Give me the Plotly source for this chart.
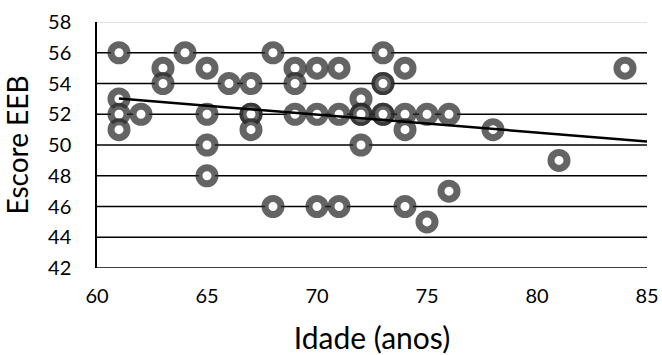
import numpy as np
import plotly.graph_objects as go

idade = [61, 61, 61, 61, 62, 63, 63, 64, 65, 65, 65, 65, 66, 67, 67, 67, 67,
         68, 68, 69, 69, 69, 70, 70, 70, 71, 71, 71, 72, 72, 72, 72,
         73, 73, 73, 73, 73, 74, 74, 74, 74, 75, 75, 76, 76, 78, 81, 84]
escore = [56, 53, 52, 51, 52, 55, 54, 56, 55, 52, 50, 48, 54, 54, 52, 52, 51,
          56, 46, 55, 54, 52, 55, 52, 46, 55, 52, 46, 53, 52, 52, 50,
          56, 54, 54, 52, 52, 55, 52, 51, 46, 52, 45, 52, 47, 51, 49, 55]

x_ticks = [60, 65, 70, 75, 80, 85]
y_ticks = [42, 44, 46, 48, 50, 52, 54, 56, 58]

slope, intercept = np.polyfit(idade, escore, 1)
tx = [min(idade), 85]
ty = [slope * v + intercept for v in tx]

fig = go.Figure()
fig.add_trace(go.Scatter(
    x=idade, y=escore, mode="markers",
    marker=dict(symbol="circle", size=16, color="white",
                line=dict(color="rgba(40,40,40,0.72)", width=7)),
    showlegend=False, hoverinfo="x+y"))
fig.add_trace(go.Scatter(
    x=tx, y=ty, mode="lines", line=dict(color="black", width=2.5),
    showlegend=False, hoverinfo="skip"))

shapes = []
for yv in y_ticks[1:]:
    shapes.append(dict(type="line", xref="x", yref="y", x0=60, x1=85, y0=yv, y1=yv,
                       line=dict(color="#d9d9d9" if yv == 58 else "black", width=1.5),
                       layer="below"))
shapes.append(dict(type="line", xref="x", yref="y", x0=60, x1=85, y0=42, y1=42,
                   line=dict(color="black", width=1.5), layer="below"))

font = "Lato, Open Sans, sans-serif"
fig.update_layout(
    width=662, height=355,
    margin=dict(l=97, r=15, t=22, b=87),
    paper_bgcolor="white", plot_bgcolor="white",
    shapes=shapes,
    font=dict(family=font, color="black"),
    xaxis=dict(range=[60, 85], tickvals=x_ticks, showgrid=False, zeroline=False,
               showline=False, ticks="", tickfont=dict(size=20), automargin=False,
               ticklabelstandoff=14,
               title=dict(text="Idade (anos)", font=dict(size=30), standoff=26)),
    yaxis=dict(range=[42, 58], tickvals=y_ticks, showgrid=False, zeroline=False,
               showline=True, linecolor="black", linewidth=1.5, ticks="",
               tickfont=dict(size=20), ticklabelstandoff=20, automargin=False,
               title=dict(text="Escore EEB", font=dict(size=28), standoff=15)),
)
fig.write_html(
    "out.html",
    config={"displayModeBar": False},
    post_script=("document.body.style.margin='0';"
                 "document.body.style.overflow='hidden';"
                 "document.documentElement.style.overflow='hidden';"),
)
